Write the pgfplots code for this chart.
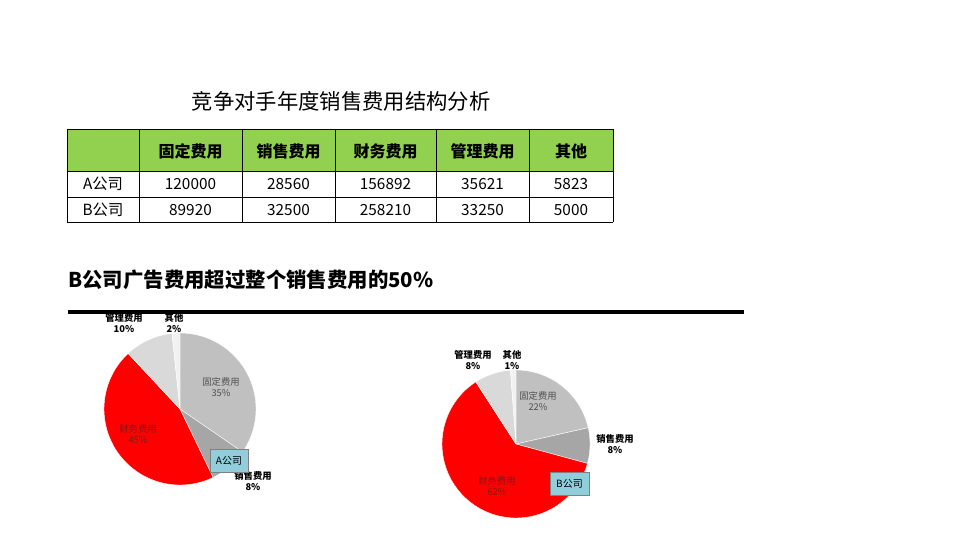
\documentclass[border=0pt]{standalone}
\usepackage{pgfplots}
\pgfplotsset{compat=1.18}
\usepgfplotslibrary{polar}
\usepackage{fontspec}
\setmainfont{Carlito}
\newfontfamily\cjk{Noto Sans CJK SC}
\definecolor{hdr}{RGB}{146,208,80}
\definecolor{sfix}{RGB}{192,192,192}
\definecolor{ssale}{RGB}{166,166,166}
\definecolor{sfin}{RGB}{255,0,0}
\definecolor{smgt}{RGB}{217,217,217}
\definecolor{soth}{RGB}{242,242,242}
\definecolor{boxblue}{RGB}{146,205,220}
\definecolor{lblgray}{RGB}{80,80,80}
\definecolor{lblred}{RGB}{130,25,25}

% data: fixed, sales, finance, management, other
\def\Aa{120000}\def\Ab{28560}\def\Ac{156892}\def\Ad{35621}\def\Ae{5823}
\def\Ba{89920}\def\Bb{32500}\def\Bc{258210}\def\Bd{33250}\def\Be{5000}

\newcommand\pieangles[6]{% #1 prefix, #2..#6 values
  \edef\tot{\fpeval{#2+#3+#4+#5+#6}}%
  \expandafter\edef\csname #1A\endcsname{90}%
  \expandafter\edef\csname #1B\endcsname{\fpeval{90-360*(#2)/\tot}}%
  \expandafter\edef\csname #1C\endcsname{\fpeval{90-360*(#2+#3)/\tot}}%
  \expandafter\edef\csname #1D\endcsname{\fpeval{90-360*(#2+#3+#4)/\tot}}%
  \expandafter\edef\csname #1E\endcsname{\fpeval{90-360*(#2+#3+#4+#5)/\tot}}%
  \expandafter\edef\csname #1F\endcsname{-270}%
}
\pieangles{pa}{\Aa}{\Ab}{\Ac}{\Ad}{\Ae}
\pieangles{pb}{\Ba}{\Bb}{\Bc}{\Bd}{\Be}

\newcommand\slice[3]{% color, from, to
  \addplot[draw=white, line width=0.3pt, fill=#1, domain=#2:#3, samples=72] {1} -- (axis cs:0,0) -- cycle;
}

\begin{document}
\begin{tikzpicture}
\begin{scope}[x=0.75pt,y=-0.75pt]
\path (0,0) rectangle (960,540);
% title
\node[font=\cjk\fontsize{16}{18}\selectfont] at (341,101) {竞争对手年度销售费用结构分析};
% table
\fill[hdr] (67,129) rectangle (613,171);
\foreach \yy in {129,171,197,222} \draw[line width=0.75pt] (67,\yy) -- (613,\yy);
\foreach \xx in {67,139,242,335,436,529,613} \draw[line width=0.75pt] (\xx,129) -- (\xx,222);
\begin{scope}[every node/.style={font=\cjk\bfseries\fontsize{12}{14}\selectfont}]
\node at (190.5,151) {固定费用};
\node at (288.5,151) {销售费用};
\node at (385.5,151) {财务费用};
\node at (482.5,151) {管理费用};
\node at (571,151) {其他};
\end{scope}
\begin{scope}[every node/.style={font=\cjk\fontsize{11.5}{14}\selectfont}]
\node at (103,184) {A公司};
\node at (103,210) {B公司};
\node at (190.5,184) {120000};
\node at (288.5,184) {28560};
\node at (385.5,184) {156892};
\node at (482.5,184) {35621};
\node at (571,184) {5823};
\node at (190.5,210) {89920};
\node at (288.5,210) {32500};
\node at (385.5,210) {258210};
\node at (482.5,210) {33250};
\node at (571,210) {5000};
\end{scope}
% subtitle
\node[anchor=west, font=\cjk\bfseries\fontsize{15.3}{17}\selectfont, inner sep=0pt] at (68,280) {B公司广告费用超过整个销售费用的50\%};
\draw[line width=2.4pt] (68,312) -- (744,312);
\end{scope}

% left pie
\begin{polaraxis}[hide axis, scale only axis, clip=false, width=114pt, height=114pt,
  xmin=0, xmax=360, ymin=0, ymax=1, at={(135pt,-306.75pt)}, anchor=center]
\slice{sfix}{\paB}{\paA}
\slice{ssale}{\paC}{\paB}
\slice{sfin}{\paD}{\paC}
\slice{smgt}{\paE}{\paD}
\slice{soth}{\paF}{\paE}
\end{polaraxis}
% right pie
\begin{polaraxis}[hide axis, scale only axis, clip=false, width=111pt, height=111pt,
  xmin=0, xmax=360, ymin=0, ymax=1, at={(387pt,-333pt)}, anchor=center]
\slice{sfix}{\pbB}{\pbA}
\slice{ssale}{\pbC}{\pbB}
\slice{sfin}{\pbD}{\pbC}
\slice{smgt}{\pbE}{\pbD}
\slice{soth}{\pbF}{\pbE}
\end{polaraxis}

\begin{scope}[x=0.75pt,y=-0.75pt]
\tikzset{inl/.style={font=\cjk\fontsize{7}{8.2}\selectfont, align=center, inner sep=0pt},
         outl/.style={font=\cjk\bfseries\fontsize{7}{8.2}\selectfont, align=center, inner sep=0pt}}
% left labels
\node[inl, text=lblgray] at (221,387) {固定费用\\35\%};
\node[inl, text=lblred] at (138,434) {财务费用\\45\%};
\node[outl] at (124,323) {管理费用\\10\%};
\node[outl] at (174,323) {其他\\2\%};
\node[outl] at (253,481) {销售费用\\8\%};
\draw[draw=gray, fill=boxblue] (210,449) rectangle (248,472);
\node[font=\cjk\fontsize{7.5}{9}\selectfont] at (229,460.5) {A公司};
% right labels
\node[inl, text=lblgray] at (538,401) {固定费用\\22\%};
\node[inl, text=lblred] at (497,486) {财务费用\\62\%};
\node[outl] at (473,360) {管理费用\\8\%};
\node[outl] at (512,360) {其他\\1\%};
\node[outl] at (615,444) {销售费用\\8\%};
\draw[draw=gray, fill=boxblue] (550,472) rectangle (589,495);
\node[font=\cjk\fontsize{7.5}{9}\selectfont] at (569.5,483.5) {B公司};
\end{scope}
\end{tikzpicture}
\end{document}
